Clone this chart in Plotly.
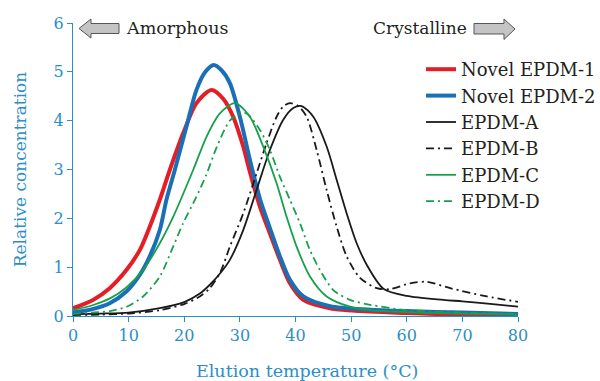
import plotly.graph_objects as go

# ---- data ----
x_nov1 = [0, 3.6, 6.6, 9.6, 12, 13.8, 15.6, 17.4, 19.8, 22.2, 24.9, 27, 28.8, 30.6, 31.8, 33.6, 35.4, 37.2, 39, 41.4, 46.2, 53.4, 60, 70, 80]
y_nov1 = [0.16, 0.33, 0.57, 0.94, 1.35, 1.83, 2.38, 2.99, 3.74, 4.36, 4.63, 4.45, 4.08, 3.47, 2.95, 2.24, 1.69, 1.15, 0.67, 0.33, 0.16, 0.09, 0.06, 0.03, 0.02]

x_nov2 = [0, 3.5, 6.6, 9.6, 12, 13.8, 15.6, 16.8, 18.3, 20.4, 22.2, 23.8, 25.3, 26.8, 28.2, 30, 31.8, 33.6, 35.4, 37.2, 39, 41.4, 46.2, 53.4, 60, 70, 80]
y_nov2 = [0.07, 0.14, 0.26, 0.50, 0.84, 1.22, 1.76, 2.38, 2.99, 3.88, 4.63, 5.0, 5.14, 5.02, 4.77, 4.08, 3.2, 2.4, 1.8, 1.22, 0.74, 0.4, 0.2, 0.13, 0.1, 0.07, 0.04]

x_a = [0, 5, 10, 15.6, 20.1, 22.8, 24.6, 26.5, 28.2, 30.6, 33, 35.4, 37.8, 39.6, 41.1, 43.2, 45.6, 47.4, 49.2, 51, 52.8, 55.8, 60, 66.6, 70, 75, 80]
y_a = [0.04, 0.05, 0.07, 0.16, 0.29, 0.46, 0.64, 0.88, 1.15, 1.76, 2.58, 3.40, 4.02, 4.26, 4.30, 4.08, 3.47, 2.79, 2.1, 1.49, 1.05, 0.56, 0.41, 0.33, 0.3, 0.25, 0.19]

x_b = [0, 5, 10, 15.6, 20.1, 22.8, 24.6, 26.5, 28.2, 30.6, 33, 34.8, 36.6, 37.8, 39, 40.5, 42, 43.8, 45.6, 47.4, 49.2, 51.6, 54.6, 57, 60.6, 63.6, 67.8, 74.4, 80]
y_b = [0.02, 0.03, 0.05, 0.12, 0.25, 0.40, 0.57, 0.9, 1.42, 2.10, 2.92, 3.54, 4.08, 4.29, 4.36, 4.3, 4.08, 3.40, 2.58, 1.83, 1.22, 0.78, 0.57, 0.55, 0.67, 0.70, 0.57, 0.40, 0.29]

x_c = [0, 3.5, 6.65, 9.65, 12.6, 15.6, 18, 21.6, 24, 26.4, 29.1, 31.8, 34.2, 36.6, 38.4, 40.2, 42.6, 45.6, 49.8, 53.4, 60, 70, 80]
y_c = [0.12, 0.22, 0.36, 0.59, 0.94, 1.49, 2.03, 2.99, 3.67, 4.15, 4.36, 4.08, 3.47, 2.72, 2.03, 1.42, 0.81, 0.40, 0.19, 0.12, 0.08, 0.05, 0.03]

x_d = [0, 3.5, 6.65, 9.65, 12.6, 15.6, 18, 19.8, 22, 24, 25.8, 28.2, 30, 31.2, 33.6, 35.4, 37.2, 39, 40.8, 42.6, 44.4, 46.8, 49.8, 53.4, 60, 70, 80]
y_d = [0.04, 0.07, 0.1, 0.19, 0.40, 0.81, 1.42, 1.9, 2.4, 2.9, 3.45, 4.0, 4.15, 4.15, 3.81, 3.4, 2.85, 2.38, 1.9, 1.35, 0.94, 0.53, 0.33, 0.23, 0.12, 0.07, 0.04]

names = ["Novel EPDM-1", "Novel EPDM-2", "EPDM-A", "EPDM-B", "EPDM-C", "EPDM-D"]
x_ticks = [0, 10, 20, 30, 40, 50, 60, 70, 80]
y_ticks = [0, 1, 2, 3, 4, 5, 6]

# ---- styles ----
RED = "#e41e26"
BLUE = "#1b6fb6"
GREEN = "#17a04b"
BLACK = "#1a1a1a"
AXBLUE = "#2b8ec6"
TXT = "#231f20"
DASHDOT = "8px,4px,2px,4px"
FONT = "DejaVu Serif"

series = [
    (x_nov1, y_nov1, names[0], RED, 4, "solid"),
    (x_nov2, y_nov2, names[1], BLUE, 4, "solid"),
    (x_a, y_a, names[2], BLACK, 1.8, "solid"),
    (x_b, y_b, names[3], BLACK, 1.8, DASHDOT),
    (x_c, y_c, names[4], GREEN, 1.8, "solid"),
    (x_d, y_d, names[5], GREEN, 1.8, DASHDOT),
]

fig = go.Figure()
for xs, ys, nm, col, w, dash in series:
    fig.add_trace(go.Scatter(x=xs, y=ys, name=nm, mode="lines", hoverinfo="skip",
                             line=dict(color=col, width=w, dash=dash, shape="spline", smoothing=0.8)))

# plot-area position in pixels
L, R, T, B = 73, 518, 23, 316
W, H = 600, 381


def px(xp):
    return (xp - L) / (R - L)


def py(yp):
    return (B - yp) / (B - T)


def arrow_path(pts):
    return "M " + " L ".join(f"{px(a):.4f},{py(b):.4f}" for a, b in pts) + " Z"

left_arrow = [(79, 28.5), (91, 19), (91, 23.5), (119, 23.5), (119, 33.5), (91, 33.5), (91, 38)]
right_arrow = [(515, 29), (504, 19), (504, 23.5), (474, 23.5), (474, 34), (504, 34), (504, 39.5)]
for pts in (left_arrow, right_arrow):
    fig.add_shape(type="path", xref="paper", yref="paper", path=arrow_path(pts),
                  fillcolor="#c4c4c4", line=dict(color="#555555", width=1))

fig.add_annotation(text="Amorphous", xref="paper", yref="paper", x=px(124), y=py(28),
                   xanchor="left", yanchor="middle", showarrow=False,
                   font=dict(family=FONT, size=17.5, color=TXT))
fig.add_annotation(text="Crystalline", xref="paper", yref="paper", x=px(371), y=py(28),
                   xanchor="left", yanchor="middle", showarrow=False,
                   font=dict(family=FONT, size=17, color=TXT))
# x-axis title (placed as in the reference, slightly right of centre)
fig.add_annotation(text="Elution temperature (°C)", xref="paper", yref="paper",
                   x=px(306.5), y=py(371), xanchor="center", yanchor="middle", showarrow=False,
                   font=dict(family=FONT, size=17.5, color=AXBLUE))

fig.update_layout(
    width=W, height=H, autosize=False,
    margin=dict(l=L, r=W - R, t=T, b=H - B, pad=0, autoexpand=False),
    paper_bgcolor="white", plot_bgcolor="white",
    font=dict(family=FONT, color=TXT),
    showlegend=True, hovermode=False,
    legend=dict(x=px(421), y=py(51), xanchor="left", yanchor="top",
                font=dict(family=FONT, size=18, color=TXT),
                bgcolor="rgba(0,0,0,0)", tracegroupgap=0, itemwidth=30),
    xaxis=dict(range=[0, 80], tickvals=x_ticks, showgrid=False, zeroline=False, automargin=False,
               showline=True, linecolor=AXBLUE, linewidth=1,
               ticks="outside", ticklen=5, tickcolor=AXBLUE,
               tickfont=dict(family=FONT, size=16, color=AXBLUE)),
    yaxis=dict(range=[0, 6], tickvals=y_ticks, showgrid=False, zeroline=False, automargin=False,
               showline=True, linecolor=AXBLUE, linewidth=1,
               ticks="outside", ticklen=5, tickcolor=AXBLUE,
               tickfont=dict(family=FONT, size=16, color=AXBLUE),
               title=dict(text="Relative concentration", standoff=22,
                          font=dict(family=FONT, size=17, color=AXBLUE))),
)

post = "document.body.style.margin='0';"

fig.write_html("out.html", config={"responsive": False, "displayModeBar": False},
               post_script=post)
